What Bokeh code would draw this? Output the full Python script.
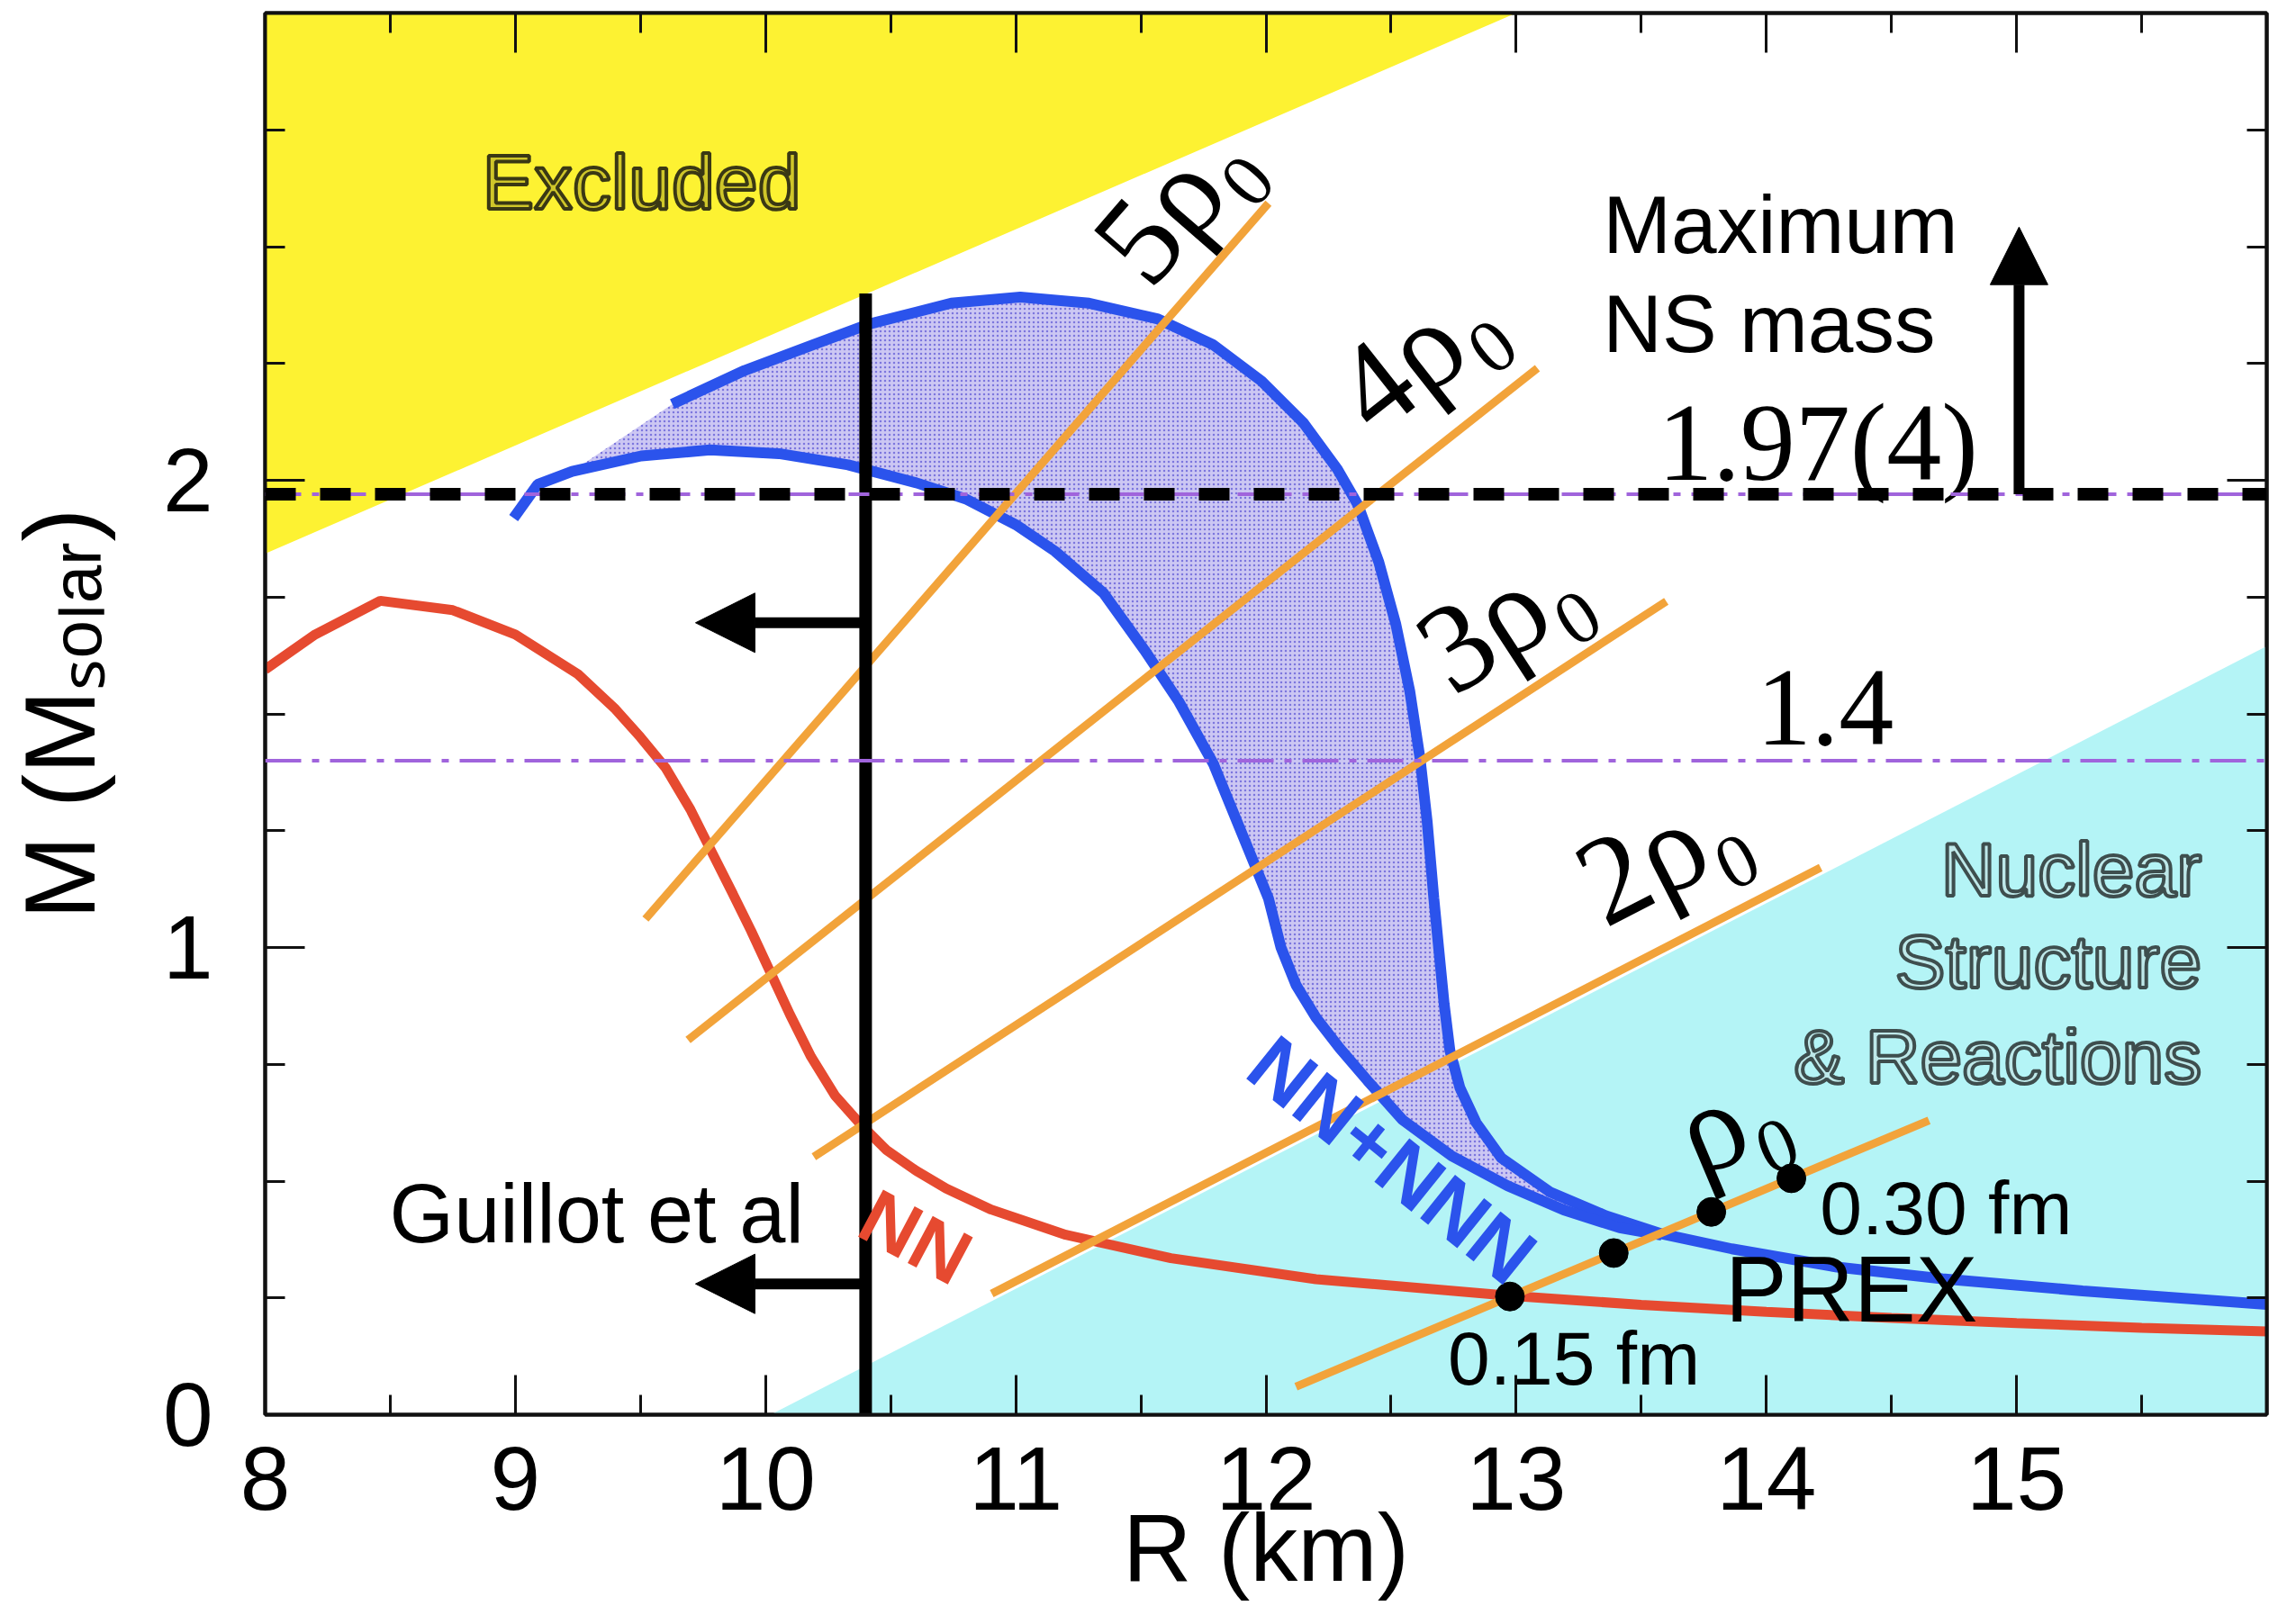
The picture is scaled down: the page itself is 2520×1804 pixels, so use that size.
import math

from bokeh.core.properties import value
from bokeh.embed import file_html
from bokeh.models import Arrow, FixedTicker, LinearAxis, NormalHead, Range1d, Span
from bokeh.plotting import figure
from bokeh.resources import INLINE

# ---------------- data ----------------
r_ticks = [8, 9, 10, 11, 12, 13, 14, 15]
r_minor_ticks = [8.5, 9.5, 10.5, 11.5, 12.5, 13.5, 14.5, 15.5]
m_ticks = [0, 1, 2]
m_minor_ticks = [0.25, 0.5, 0.75, 1.25, 1.5, 1.75, 2.25, 2.5, 2.75]

# excluded (causality) region and nuclear-physics region
excluded_r = [8.0, 8.0, 13.0]
excluded_m = [1.843, 3.0, 3.0]
nuclear_r = [10.02, 16.0, 16.0]
nuclear_m = [0.0, 0.0, 1.645]

# mass-radius relation, NN interactions only
nn_r = [8.0, 8.2, 8.46, 8.75, 9.0, 9.25, 9.4, 9.5, 9.6, 9.7, 9.774, 9.87, 9.942, 10.014,
        10.098, 10.182, 10.278, 10.374, 10.482, 10.602, 10.722, 10.902, 11.2, 11.62,
        12.2, 12.97, 13.5, 14.0, 14.5, 15.0, 15.5, 16.0]
nn_m = [1.595, 1.67, 1.742, 1.722, 1.67, 1.585, 1.51, 1.45, 1.385, 1.295, 1.216, 1.114,
        1.036, 0.953, 0.856, 0.766, 0.683, 0.625, 0.567, 0.522, 0.484, 0.439, 0.385,
        0.335, 0.29, 0.255, 0.235, 0.22, 0.207, 0.196, 0.186, 0.178]

# NN+NNN band: upper (stiff) and lower (soft) edges
nnn_upper_r = [9.627, 9.916, 10.191, 10.412, 10.742, 11.018, 11.293, 11.569, 11.789,
               11.982, 12.148, 12.285, 12.368, 12.451, 12.519, 12.575, 12.616, 12.644,
               12.671, 12.69, 12.712, 12.735, 12.775, 12.84, 12.94, 13.134, 13.358, 13.582,
               13.862, 14.283, 14.703, 15.264, 16.0]
nnn_upper_m = [2.163, 2.235, 2.290, 2.334, 2.379, 2.392, 2.379, 2.345, 2.290, 2.2125,
               2.124, 2.024, 1.947, 1.825, 1.692, 1.548, 1.404, 1.271, 1.105, 1.0, 0.88,
               0.78, 0.70, 0.625, 0.55, 0.477, 0.426, 0.387, 0.355, 0.316, 0.291, 0.265,
               0.236]
nnn_lower_r = [8.993, 9.089, 9.227, 9.503, 9.778, 10.054, 10.33, 10.6, 10.8, 11.0, 11.157,
               11.35, 11.514, 11.652, 11.79, 11.90, 12.01, 12.06, 12.12, 12.2, 12.294,
               12.406, 12.546, 12.742, 12.966, 13.19, 13.414, 13.582]
nnn_lower_m = [1.919, 1.991, 2.019, 2.052, 2.065, 2.057, 2.033, 1.995, 1.96, 1.905, 1.848,
               1.759, 1.637, 1.526, 1.393, 1.249, 1.105, 1.0, 0.92, 0.85, 0.785, 0.715,
               0.631, 0.554, 0.490, 0.4385, 0.400, 0.384]

# constant central-density lines (multiples of saturation density)
density_labels = ["5ρ₀", "4ρ₀", "3ρ₀", "2ρ₀", "ρ₀"]
density_r0 = [9.52, 9.69, 10.193, 10.904, 12.12]
density_m0 = [1.061, 0.802, 0.552, 0.259, 0.060]
density_r1 = [12.01, 13.085, 13.60, 14.217, 14.65]
density_m1 = [2.593, 2.240, 1.741, 1.171, 0.630]
density_label_r = [11.63, 12.60, 12.94, 13.58, 13.86]
density_label_m = [2.60, 2.275, 1.71, 1.205, 0.635]

# PREX neutron-skin points along the saturation-density line
skin_r = [12.975, 13.39, 13.78, 14.10]
skin_m = [0.253, 0.346, 0.434, 0.506]
skin_labels = ["0.15 fm", "0.30 fm"]

max_mass = 1.97
canonical_mass = 1.4
guillot_radius = 10.4
guillot_top = 2.40
guillot_arrow_m = [1.695, 0.28]
guillot_arrow_tip = 9.72
max_mass_arrow_r = 15.01
max_mass_arrow_tip = 2.542

# ---------------- styling ----------------
W, H = 2520, 1804
BORDER_L, BORDER_R, BORDER_T, BORDER_B = 294, 3, 14, 233
FW, FH = W - BORDER_L - BORDER_R, H - BORDER_T - BORDER_B
R_LO, R_HI, M_LO, M_HI = 8, 16, 0, 3
PX_R = FW / (R_HI - R_LO)
PX_M = FH / (M_HI - M_LO)

YELLOW = "#FDF232"
CYAN = "#B4F4F6"
BLUE = "#2B53EC"
RED = "#E64A30"
ORANGE = "#F2A33A"
PURPLE = "#A064DC"
SANS = value("Liberation Sans")
SERIF = value("Liberation Serif")


def mid(baseline, size_px):
    """Vertical centre of a line of text whose alphabetic baseline sits at `baseline`."""
    return baseline + 0.3465 * size_px / PX_M


p = figure(width=W, height=H,
           x_range=Range1d(R_LO, R_HI), y_range=Range1d(M_LO, M_HI),
           x_axis_location=None, y_axis_location=None,
           min_border_left=BORDER_L, min_border_right=BORDER_R,
           min_border_top=BORDER_T, min_border_bottom=BORDER_B,
           output_backend="svg", toolbar_location=None)
p.grid.visible = False
p.background_fill_color = "white"
p.border_fill_color = "white"
p.outline_line_color = "#111111"
p.outline_line_width = 4

r_ticker = FixedTicker(ticks=r_ticks, minor_ticks=r_minor_ticks)
m_ticker = FixedTicker(ticks=m_ticks, minor_ticks=m_minor_ticks)


def make_axis(ticker, ticks, labelled):
    ax = LinearAxis(ticker=ticker)
    ax.axis_line_width = 4
    ax.axis_line_color = "#111111"
    ax.major_tick_in = 44
    ax.major_tick_out = 0
    ax.minor_tick_in = 22
    ax.minor_tick_out = 0
    ax.major_tick_line_width = 3
    ax.minor_tick_line_width = 3
    ax.major_tick_line_color = "#111111"
    ax.minor_tick_line_color = "#111111"
    ax.major_label_text_font = "Liberation Sans"
    ax.major_label_text_color = "black"
    ax.axis_label_text_font = "Liberation Sans"
    ax.axis_label_text_font_style = "normal"
    ax.axis_label_text_color = "black"
    if labelled:
        ax.major_label_text_font_size = "100px"
    else:
        ax.major_label_overrides = {t: "" for t in ticks}
        ax.major_label_text_font_size = "0px"
        ax.major_label_standoff = 0
    return ax


bottom = make_axis(r_ticker, r_ticks, True)
bottom.major_label_standoff = 36
bottom.axis_label = "R (km)"
bottom.axis_label_text_font_size = "106px"
bottom.axis_label_standoff = -20
left = make_axis(m_ticker, m_ticks, True)
left.major_label_standoff = 58
left.axis_label = "M (Mₛₒₗₐᵣ)"
left.axis_label_text_font_size = "112px"
left.axis_label_standoff = 49
p.add_layout(bottom, "below")
p.add_layout(left, "left")
p.add_layout(make_axis(r_ticker, r_ticks, False), "above")
p.add_layout(make_axis(m_ticker, m_ticks, False), "right")

# shaded regions
p.patch(excluded_r, excluded_m, fill_color=YELLOW, line_color=None)
p.patch(nuclear_r, nuclear_m, fill_color=CYAN, line_color=None)

# NN+NNN band fill: upper edge up to where the two edges meet, back along the
# lower edge, closed along the causality side
merge_r = nnn_lower_r[-1]
start = next(i for i, r in enumerate(nnn_lower_r) if r >= 9.2)
upper_part = [(r, m) for r, m in zip(nnn_upper_r, nnn_upper_m) if r <= merge_r]
band_r = [r for r, _ in upper_part] + nnn_lower_r[start:][::-1]
band_m = [m for _, m in upper_part] + nnn_lower_m[start:][::-1]
p.patch(band_r, band_m, fill_color="#CCC7F3", line_color=None,
        hatch_pattern="dot", hatch_color="#6F68DA", hatch_scale=5, hatch_weight=1.8,
        hatch_alpha=0.85)

# reference masses
for m in (max_mass, canonical_mass):
    p.add_layout(Span(location=m, dimension="width", line_color=PURPLE,
                      line_width=4, line_dash="40 12 8 12"))

# mass-radius curves
p.line(nn_r, nn_m, line_color=RED, line_width=11)
p.line(nnn_upper_r, nnn_upper_m, line_color=BLUE, line_width=12)
p.line(nnn_lower_r, nnn_lower_m, line_color=BLUE, line_width=12)

# density lines
p.segment(x0=density_r0, y0=density_m0, x1=density_r1, y1=density_m1,
          line_color=ORANGE, line_width=9)

# observed maximum mass
p.add_layout(Span(location=max_mass, dimension="width", line_color="black",
                  line_width=14, line_dash="34 27"))

# Guillot et al. radius bound
p.segment(x0=[guillot_radius], y0=[0], x1=[guillot_radius], y1=[guillot_top],
          line_color="black", line_width=14)
for m in guillot_arrow_m:
    p.add_layout(Arrow(end=NormalHead(size=66, fill_color="black", line_color="black"),
                       x_start=guillot_radius, y_start=m, x_end=guillot_arrow_tip, y_end=m,
                       line_color="black", line_width=12))
p.add_layout(Arrow(end=NormalHead(size=64, fill_color="black", line_color="black"),
                   x_start=max_mass_arrow_r, y_start=max_mass, x_end=max_mass_arrow_r,
                   y_end=max_mass_arrow_tip, line_color="black", line_width=12))

# PREX points
p.scatter(skin_r, skin_m, size=32, color="black")

# density labels, rotated along their lines
angles = [math.atan2((m1 - m0) * PX_M, (r1 - r0) * PX_R)
          for r0, m0, r1, m1 in zip(density_r0, density_m0, density_r1, density_m1)]
p.text(x=density_label_r, y=density_label_m, text=density_labels, angle=angles,
       text_font=SERIF, text_font_size="140px", text_color="black",
       text_align="center", text_baseline="middle")

# region labels (outlined lettering)
p.text(x=[8.868], y=[mid(2.581, 86)], text=["Excluded"], text_font=SANS,
       text_font_size="86px", text_color="#CFC62A", text_outline_color="#3A3814",
       text_align="left", text_baseline="middle")
p.text(x=[15.74] * 3, y=[mid(b, 84) for b in (1.110, 0.915, 0.710)],
       text=["Nuclear", "Structure", "& Reactions"], text_font=SANS, text_font_size="84px",
       text_color="#BEE8E9", text_outline_color="#3E4E4E",
       text_align="right", text_baseline="middle")

# curve labels
p.text(x=[12.504], y=[0.545], text=["NN+NNN"], angle=[math.radians(-38.8)],
       text_font=SANS, text_font_style="bold", text_font_size="90px", text_color=BLUE,
       text_align="center", text_baseline="middle")
p.text(x=[10.60], y=[0.381], text=["NN"], angle=[math.radians(-28)],
       text_font=SANS, text_font_style="bold", text_font_size="86px", text_color=RED,
       text_align="center", text_baseline="middle")

# annotations
p.text(x=[13.347, 13.347], y=[mid(2.487, 91), mid(2.275, 91)], text=["Maximum", "NS mass"],
       text_font=SANS, text_font_size="91px", text_color="black",
       text_align="left", text_baseline="middle")
p.text(x=[8.497], y=[mid(0.370, 92)], text=["Guillot et al"], text_font=SANS,
       text_font_size="92px", text_color="black", text_align="left",
       text_baseline="middle")
p.text(x=[13.835], y=[mid(0.200, 103)], text=["PREX"], text_font=SANS,
       text_font_size="103px", text_color="black", text_align="left",
       text_baseline="middle")
p.text(x=[12.727, 14.214], y=[mid(0.065, 84), mid(0.387, 84)], text=skin_labels,
       text_font=SANS, text_font_size="84px", text_color="black", text_align="left",
       text_baseline="middle")
p.text(x=[13.566, 13.96], y=[mid(2.0, 122), mid(1.432, 122)],
       text=[f"{max_mass:.2f}(4)", f"{canonical_mass}"],
       text_font=SERIF, text_font_size="122px", text_color="black",
       text_align="left", text_baseline="middle")

open("out.html", "w").write(file_html(p, INLINE))
